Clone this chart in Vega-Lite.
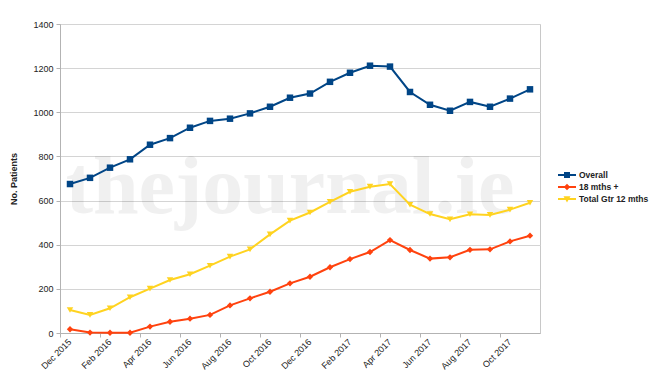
{
  "$schema": "https://vega.github.io/schema/vega-lite/v6.json",
  "width": 480,
  "height": 309,
  "autosize": {"type": "none"},
  "padding": {"left": 60, "top": 24, "right": 110, "bottom": 52},
  "background": "white",
  "config": {
    "font": "Liberation Sans",
    "view": {"stroke": "#c8c8c8", "strokeWidth": 1},
    "axis": {"labelFont": "Liberation Sans", "labelFontSize": 9, "labelColor": "#222222", "domainColor": "#b3b3b3", "tickColor": "#b3b3b3", "gridColor": "#d4d4d4", "tickSize": 4, "titleFont": "Liberation Sans"}
  },
  "encoding": {
    "x": {
      "field": "month", "type": "ordinal", "sort": null,
      "scale": {"type": "band", "paddingInner": 0, "paddingOuter": 0,
        "domain": ["Dec 2015", "Jan 2016", "Feb 2016", "Mar 2016", "Apr 2016", "May 2016", "Jun 2016", "Jul 2016", "Aug 2016", "Sep 2016", "Oct 2016", "Nov 2016", "Dec 2016", "Jan 2017", "Feb 2017", "Mar 2017", "Apr 2017", "May 2017", "Jun 2017", "Jul 2017", "Aug 2017", "Sep 2017", "Oct 2017", "Nov 2017"]},
      "axis": {
        "title": null,
        "values": ["Dec 2015", "Feb 2016", "Apr 2016", "Jun 2016", "Aug 2016", "Oct 2016", "Dec 2016", "Feb 2017", "Apr 2017", "Jun 2017", "Aug 2017", "Oct 2017"],
        "bandPosition": 0,
        "labelAngle": -45,
        "labelAlign": "right",
        "labelBaseline": "middle",
        "labelOffset": 0,
        "labelPadding": 3,
        "grid": false
      }
    },
    "y": {
      "field": "value", "type": "quantitative",
      "scale": {"domain": [0, 1400], "nice": false},
      "axis": {
        "title": "No. Patients",
        "format": "d",
        "titleFontSize": 9,
        "titleFontWeight": "bold",
        "titleColor": "#222222",
        "titlePadding": 14,
        "values": [0, 200, 400, 600, 800, 1000, 1200, 1400],
        "labelPadding": 3,
        "grid": true
      }
    }
  },
  "layer": [
    {
      "data": {"values": [{"month": "Nov 2016", "value": 544, "t": "thejournal.ie"}]},
      "mark": {"type": "text", "font": "Liberation Serif", "fontWeight": "bold", "fontSize": 82, "color": "#000000", "opacity": 0.055, "align": "center", "baseline": "alphabetic"},
      "encoding": {
        "text": {"field": "t"}
      }
    },
    {
      "data": {"values": [
        {"month": "Dec 2015", "Overall": 675, "18 mths +": 17, "Total Gtr 12 mths": 104},
        {"month": "Jan 2016", "Overall": 703, "18 mths +": 2, "Total Gtr 12 mths": 82},
        {"month": "Feb 2016", "Overall": 749, "18 mths +": 1, "Total Gtr 12 mths": 112},
        {"month": "Mar 2016", "Overall": 787, "18 mths +": 1, "Total Gtr 12 mths": 162},
        {"month": "Apr 2016", "Overall": 853, "18 mths +": 29, "Total Gtr 12 mths": 201},
        {"month": "May 2016", "Overall": 883, "18 mths +": 51, "Total Gtr 12 mths": 240},
        {"month": "Jun 2016", "Overall": 930, "18 mths +": 65, "Total Gtr 12 mths": 266},
        {"month": "Jul 2016", "Overall": 961, "18 mths +": 82, "Total Gtr 12 mths": 305},
        {"month": "Aug 2016", "Overall": 971, "18 mths +": 125, "Total Gtr 12 mths": 346},
        {"month": "Sep 2016", "Overall": 995, "18 mths +": 157, "Total Gtr 12 mths": 379},
        {"month": "Oct 2016", "Overall": 1025, "18 mths +": 187, "Total Gtr 12 mths": 447},
        {"month": "Nov 2016", "Overall": 1066, "18 mths +": 225, "Total Gtr 12 mths": 509},
        {"month": "Dec 2016", "Overall": 1085, "18 mths +": 255, "Total Gtr 12 mths": 546},
        {"month": "Jan 2017", "Overall": 1138, "18 mths +": 298, "Total Gtr 12 mths": 594},
        {"month": "Feb 2017", "Overall": 1179, "18 mths +": 335, "Total Gtr 12 mths": 640},
        {"month": "Mar 2017", "Overall": 1211, "18 mths +": 367, "Total Gtr 12 mths": 663},
        {"month": "Apr 2017", "Overall": 1207, "18 mths +": 421, "Total Gtr 12 mths": 675},
        {"month": "May 2017", "Overall": 1092, "18 mths +": 376, "Total Gtr 12 mths": 581},
        {"month": "Jun 2017", "Overall": 1034, "18 mths +": 337, "Total Gtr 12 mths": 539},
        {"month": "Jul 2017", "Overall": 1007, "18 mths +": 343, "Total Gtr 12 mths": 515},
        {"month": "Aug 2017", "Overall": 1047, "18 mths +": 377, "Total Gtr 12 mths": 538},
        {"month": "Sep 2017", "Overall": 1025, "18 mths +": 379, "Total Gtr 12 mths": 535},
        {"month": "Oct 2017", "Overall": 1062, "18 mths +": 415, "Total Gtr 12 mths": 559},
        {"month": "Nov 2017", "Overall": 1104, "18 mths +": 441, "Total Gtr 12 mths": 590}
      ]},
      "transform": [
        {"fold": ["Overall", "18 mths +", "Total Gtr 12 mths"], "as": ["series", "value"]}
      ],
      "encoding": {
        "color": {
          "field": "series", "type": "nominal",
          "scale": {"domain": ["Overall", "18 mths +", "Total Gtr 12 mths"], "range": ["#004586", "#ff420e", "#ffd320"]},
          "legend": {
            "title": null,
            "orient": "none",
            "legendX": 502,
            "legendY": 146,
            "labelFont": "Liberation Sans",
            "labelFontSize": 8.5,
            "labelFontWeight": "bold",
            "labelColor": "#222222",
            "labelOffset": 7,
            "symbolSize": 100,
            "rowPadding": 2,
            "encode": {
              "symbols": {
                "update": {
                  "shape": {"signal": "datum.value === 'Overall' ? 'M-1.8,-0.2H1.8V0.2H-1.8Z M-0.6,-0.6H0.6V0.6H-0.6Z' : (datum.value === '18 mths +' ? 'M-1.8,-0.2H1.8V0.2H-1.8Z M0,-0.65L0.65,0L0,0.65L-0.65,0Z' : 'M-1.8,-0.2H1.8V0.2H-1.8Z M-0.7,-0.55L0.7,-0.55L0,0.7Z')"},
                  "fill": {"scale": "color", "field": "value"},
                  "stroke": {"value": "transparent"},
                  "strokeWidth": {"value": 0},
                  "opacity": {"value": 1}
                }
              }
            }
          }
        }
      },
      "layer": [
        {"mark": {"type": "line", "strokeWidth": 2}},
        {
          "transform": [{"filter": {"field": "series", "equal": "Overall"}}],
          "mark": {"type": "point", "filled": true, "opacity": 1, "size": 42, "shape": "square"}
        },
        {
          "transform": [{"filter": {"field": "series", "equal": "18 mths +"}}],
          "mark": {"type": "point", "filled": true, "opacity": 1, "size": 40, "shape": "diamond"}
        },
        {
          "transform": [{"filter": {"field": "series", "equal": "Total Gtr 12 mths"}}],
          "mark": {"type": "point", "filled": true, "opacity": 1, "size": 42, "shape": "triangle-down"}
        }
      ]
    }
  ]
}
